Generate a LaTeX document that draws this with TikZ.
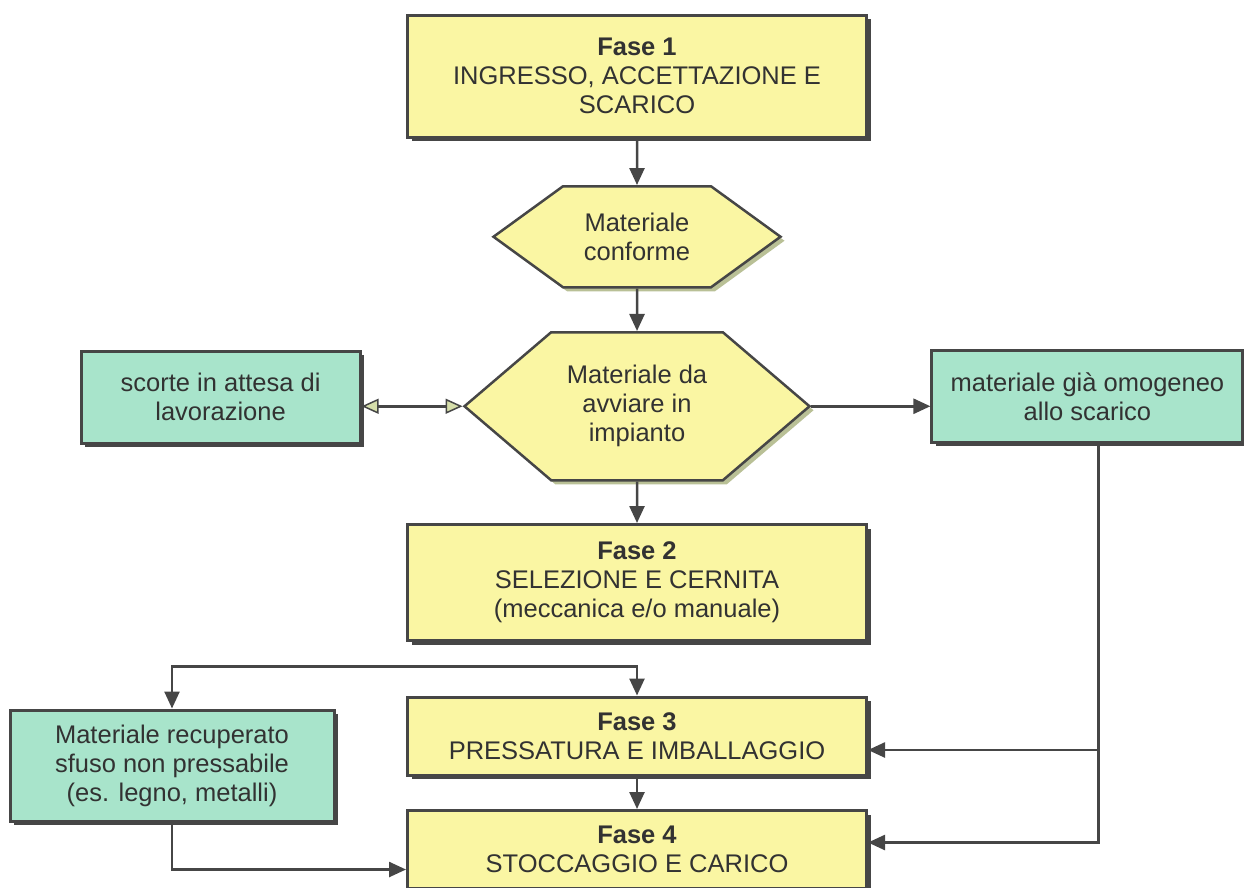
\documentclass[tikz,border=0pt]{standalone}
\usepackage{fontspec}
\setmainfont{Liberation Sans}
\usepackage{tikz}
\usetikzlibrary{positioning}
\usetikzlibrary{arrows.meta, shapes.symbols, shadows}

\definecolor{fasefill}{RGB}{250,246,163}
\definecolor{sidefill}{RGB}{168,228,203}
\definecolor{linegray}{RGB}{70,70,70}
\definecolor{textgray}{RGB}{50,50,50}
\definecolor{hexshadow}{RGB}{185,192,150}
\definecolor{tipfill}{RGB}{214,222,170}

\begin{document}
\begin{tikzpicture}[
            > = {Triangle[length=17pt, width=15pt]}, % arrow head style
            x = 1pt, y = 1pt, % one unit is one pixel of the page
            color = linegray,
            line width = 2.5pt, % line style
            font = \fontsize{25.5}{29}\selectfont,
            every node/.style={text=textgray, align=center, inner sep=0pt}
        ]

        \tikzstyle{fase}=[
            rectangle,
            draw,
            fill = fasefill,
            line width = 3pt,
            minimum width = 459pt,
            drop shadow = {shadow xshift=4pt, shadow yshift=-4pt, fill=linegray, opacity=1}
        ]
        \tikzstyle{side}=[fase, fill = sidefill]
        \tikzstyle{check}=[
            signal, signal to = east and west,
            draw,
            fill = fasefill,
            drop shadow = {shadow xshift=4pt, shadow yshift=-4pt, fill=hexshadow, opacity=1}
        ]
        \tikzstyle{hollow}=[{Triangle[length=17pt, width=15pt, fill=tipfill, line width=1.5pt]}-{Triangle[length=17pt, width=15pt, fill=tipfill, line width=1.5pt]}]

        \useasboundingbox (0,0) rectangle (1244,-887);

        \node[fase, minimum height = 122pt] (F1) at (637,-76) {\textbf{Fase 1}\\INGRESSO, ACCETTAZIONE E\\SCARICO};

        \node[check, minimum width = 287pt, minimum height = 101pt, signal pointer angle = 72] (C) [below = 46.5pt of F1] {Materiale\\conforme};
        \node[check, minimum width = 345pt, minimum height = 148pt, signal pointer angle = 81] (A) [below = 42.5pt of C] {Materiale da\\avviare in\\impianto};

        \node[side, minimum width = 279pt, minimum height = 92pt] (S) [left = 101pt of A, yshift = 9pt] {scorte in attesa di\\lavorazione};
        \node[side, minimum width = 311pt, minimum height = 92pt] (O) [right = 119pt of A, yshift = 10pt] {materiale già omogeneo\\allo scarico};

        \node[fase, minimum height = 116pt] (F2) [below = 41.5pt of A] {\textbf{Fase 2}\\SELEZIONE E CERNITA\\(meccanica e/o manuale)};
        \node[fase, minimum height = 78pt] (F3) [below = 53.5pt of F2] {\textbf{Fase 3}\\PRESSATURA E IMBALLAGGIO};
        \node[fase, minimum height = 78pt] (F4) [below = 32.5pt of F3] {\textbf{Fase 4}\\STOCCAGGIO E CARICO};

        \node[side, minimum width = 324pt, minimum height = 111pt] (R) [left = 70.5pt of F3, yshift = -29.5pt] {Materiale recuperato\\sfuso non pressabile\\(es. legno, metalli)};

        \coordinate (split) at ([yshift=29pt]F3.north);
        \coordinate (Odrop) at ([xshift=11pt]O.south);
        \coordinate (in3) at ([yshift=-14pt]F3.east);
        \coordinate (in4) at ([yshift=7pt]F4.east);
        \coordinate (in4l) at ([yshift=-20pt]F4.west);

        \path[->]
            (F1)    edge    (C)
            (C)     edge    (A)
            (A)     edge    (F2)
            (F3)    edge    (F4);

        \draw[hollow] (A.west -| S.east) -- (A.west);
        \draw[->] (A.east) -- (A.east -| O.west);

        \draw[->] (Odrop) |- (in4);
        \draw[->] (Odrop |- in3) -- (in3);

        \draw[<->] (R.north) |- (split) -- (F3.north);
        \draw[->] (R.south) |- (in4l);

\end{tikzpicture}
\end{document}
